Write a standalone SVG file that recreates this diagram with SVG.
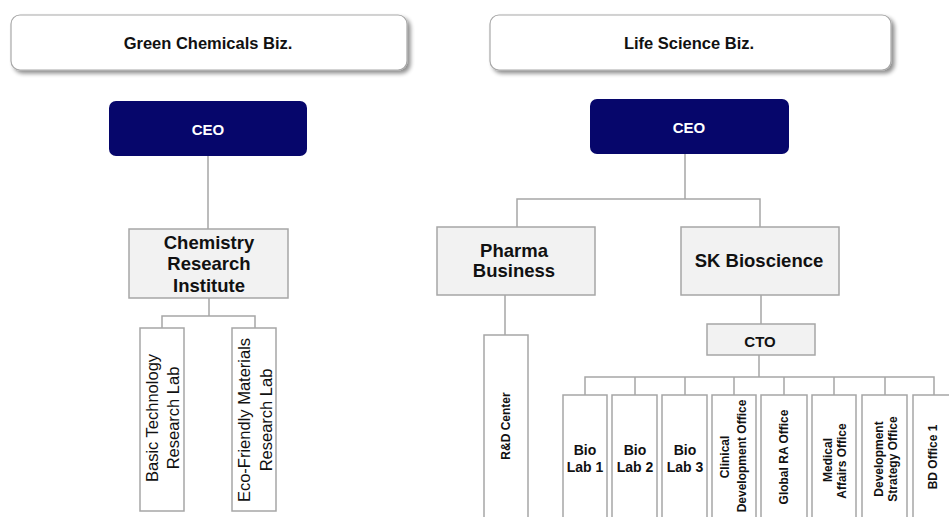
<svg xmlns="http://www.w3.org/2000/svg" width="949" height="517" viewBox="0 0 949 517">
<defs>
<filter id="sh" x="-10%" y="-20%" width="125%" height="160%">
<feGaussianBlur in="SourceAlpha" stdDeviation="2"/>
<feOffset dx="3" dy="3" result="b"/>
<feComponentTransfer><feFuncA type="linear" slope="0.45"/></feComponentTransfer>
<feMerge><feMergeNode/><feMergeNode in="SourceGraphic"/></feMerge>
</filter>
<style>
text{font-family:"Liberation Sans",Arial,sans-serif;fill:#111;text-anchor:middle;dominant-baseline:central}
.hdr{fill:#fff;stroke:#a8a8a8;stroke-width:1.2}
.hdrt{font-size:16.5px;font-weight:bold}
.ceo{fill:#06066b}
.ceot{font-size:15px;font-weight:bold;fill:#fff}
.box{fill:#f2f2f2;stroke:#a6a6a6;stroke-width:1.5}
.vbox{fill:#fff;stroke:#a6a6a6;stroke-width:1.5}
.big{font-size:18.5px;font-weight:bold}
.mid{font-size:15px;font-weight:bold}
.lab{font-size:16.5px}
.sm{font-size:12px;font-weight:bold}
.bio{font-size:14px;font-weight:bold}
.ln{fill:none;stroke:#a6a6a6;stroke-width:1.5}
</style>
</defs>
<rect width="949" height="517" fill="#fff"/>
<g id="connectors">
<path class="ln" d="M208 156V229"/>
<path class="ln" d="M209 298V316M162 328V316H255V328"/>
<path class="ln" d="M685 154V199M517 227V199H760V227"/>
<path class="ln" d="M505 295V335"/>
<path class="ln" d="M761 295V324"/>
<path class="ln" d="M759 355V377M585 395V377H934V395M635 377V395M685 377V395M734 377V395M784 377V395M834 377V395M885 377V395"/>
</g>
<g id="green-header"><rect class="hdr" x="11" y="15" width="396" height="55" rx="9" filter="url(#sh)"/><text class="hdrt" x="208" y="43">Green Chemicals Biz.</text></g>
<g id="life-header"><rect class="hdr" x="490" y="15" width="401" height="55" rx="9" filter="url(#sh)"/><text class="hdrt" x="689" y="43">Life Science Biz.</text></g>
<g id="ceo-left"><rect class="ceo" x="109" y="101" width="198" height="55" rx="7"/><text class="ceot" x="208" y="129">CEO</text></g>
<g id="ceo-right"><rect class="ceo" x="590" y="99" width="199" height="55" rx="7"/><text class="ceot" x="689" y="127">CEO</text></g>
<g id="chem-inst"><rect class="box" x="129" y="229" width="159" height="69"/><text class="big" x="209" y="242">Chemistry</text><text class="big" x="209" y="263">Research</text><text class="big" x="209" y="285">Institute</text></g>
<g id="basic-lab"><rect class="vbox" x="140" y="328" width="44" height="183"/><text class="lab" transform="translate(152 418) rotate(-90)">Basic Technology</text><text class="lab" transform="translate(173 418) rotate(-90)">Research Lab</text></g>
<g id="eco-lab"><rect class="vbox" x="232" y="328" width="44" height="183"/><text class="lab" transform="translate(244 420) rotate(-90)">Eco-Friendly Materials</text><text class="lab" transform="translate(266 420) rotate(-90)">Research Lab</text></g>
<g id="pharma"><rect class="box" x="437" y="227" width="158" height="68"/><text class="big" x="514" y="250">Pharma</text><text class="big" x="514" y="270">Business</text></g>
<g id="skbio"><rect class="box" x="681" y="227" width="158" height="68"/><text class="big" x="759" y="260">SK Bioscience</text></g>
<g id="rnd"><rect class="vbox" x="484" y="335" width="44" height="200"/><text class="sm" transform="translate(506 426) rotate(-90)">R&amp;D Center</text></g>
<g id="cto"><rect class="box" x="707" y="324" width="108" height="31"/><text class="mid" x="760" y="341">CTO</text></g>
<g id="bio1"><rect class="vbox" x="563" y="395" width="44" height="140"/><text class="bio" x="585" y="450">Bio</text><text class="bio" x="585" y="467">Lab 1</text></g>
<g id="bio2"><rect class="vbox" x="612" y="395" width="45" height="140"/><text class="bio" x="635" y="450">Bio</text><text class="bio" x="635" y="467">Lab 2</text></g>
<g id="bio3"><rect class="vbox" x="662" y="395" width="45" height="140"/><text class="bio" x="685" y="450">Bio</text><text class="bio" x="685" y="467">Lab 3</text></g>
<g id="clinical"><rect class="vbox" x="712" y="395" width="44" height="140"/><text class="sm" transform="translate(725 457) rotate(-90)">Clinical</text><text class="sm" transform="translate(742 456) rotate(-90)">Development Office</text></g>
<g id="global-ra"><rect class="vbox" x="761" y="395" width="46" height="140"/><text class="sm" transform="translate(784 457) rotate(-90)">Global RA Office</text></g>
<g id="medical"><rect class="vbox" x="812" y="395" width="44" height="140"/><text class="sm" transform="translate(828 460) rotate(-90)">Medical</text><text class="sm" transform="translate(842 461) rotate(-90)">Affairs Office</text></g>
<g id="dev-strategy"><rect class="vbox" x="862" y="395" width="45" height="140"/><text class="sm" transform="translate(879 459) rotate(-90)">Development</text><text class="sm" transform="translate(893 459) rotate(-90)">Strategy Office</text></g>
<g id="bd1"><rect class="vbox" x="913" y="395" width="44" height="140"/><text class="sm" transform="translate(933 457) rotate(-90)">BD Office 1</text></g>
</svg>
